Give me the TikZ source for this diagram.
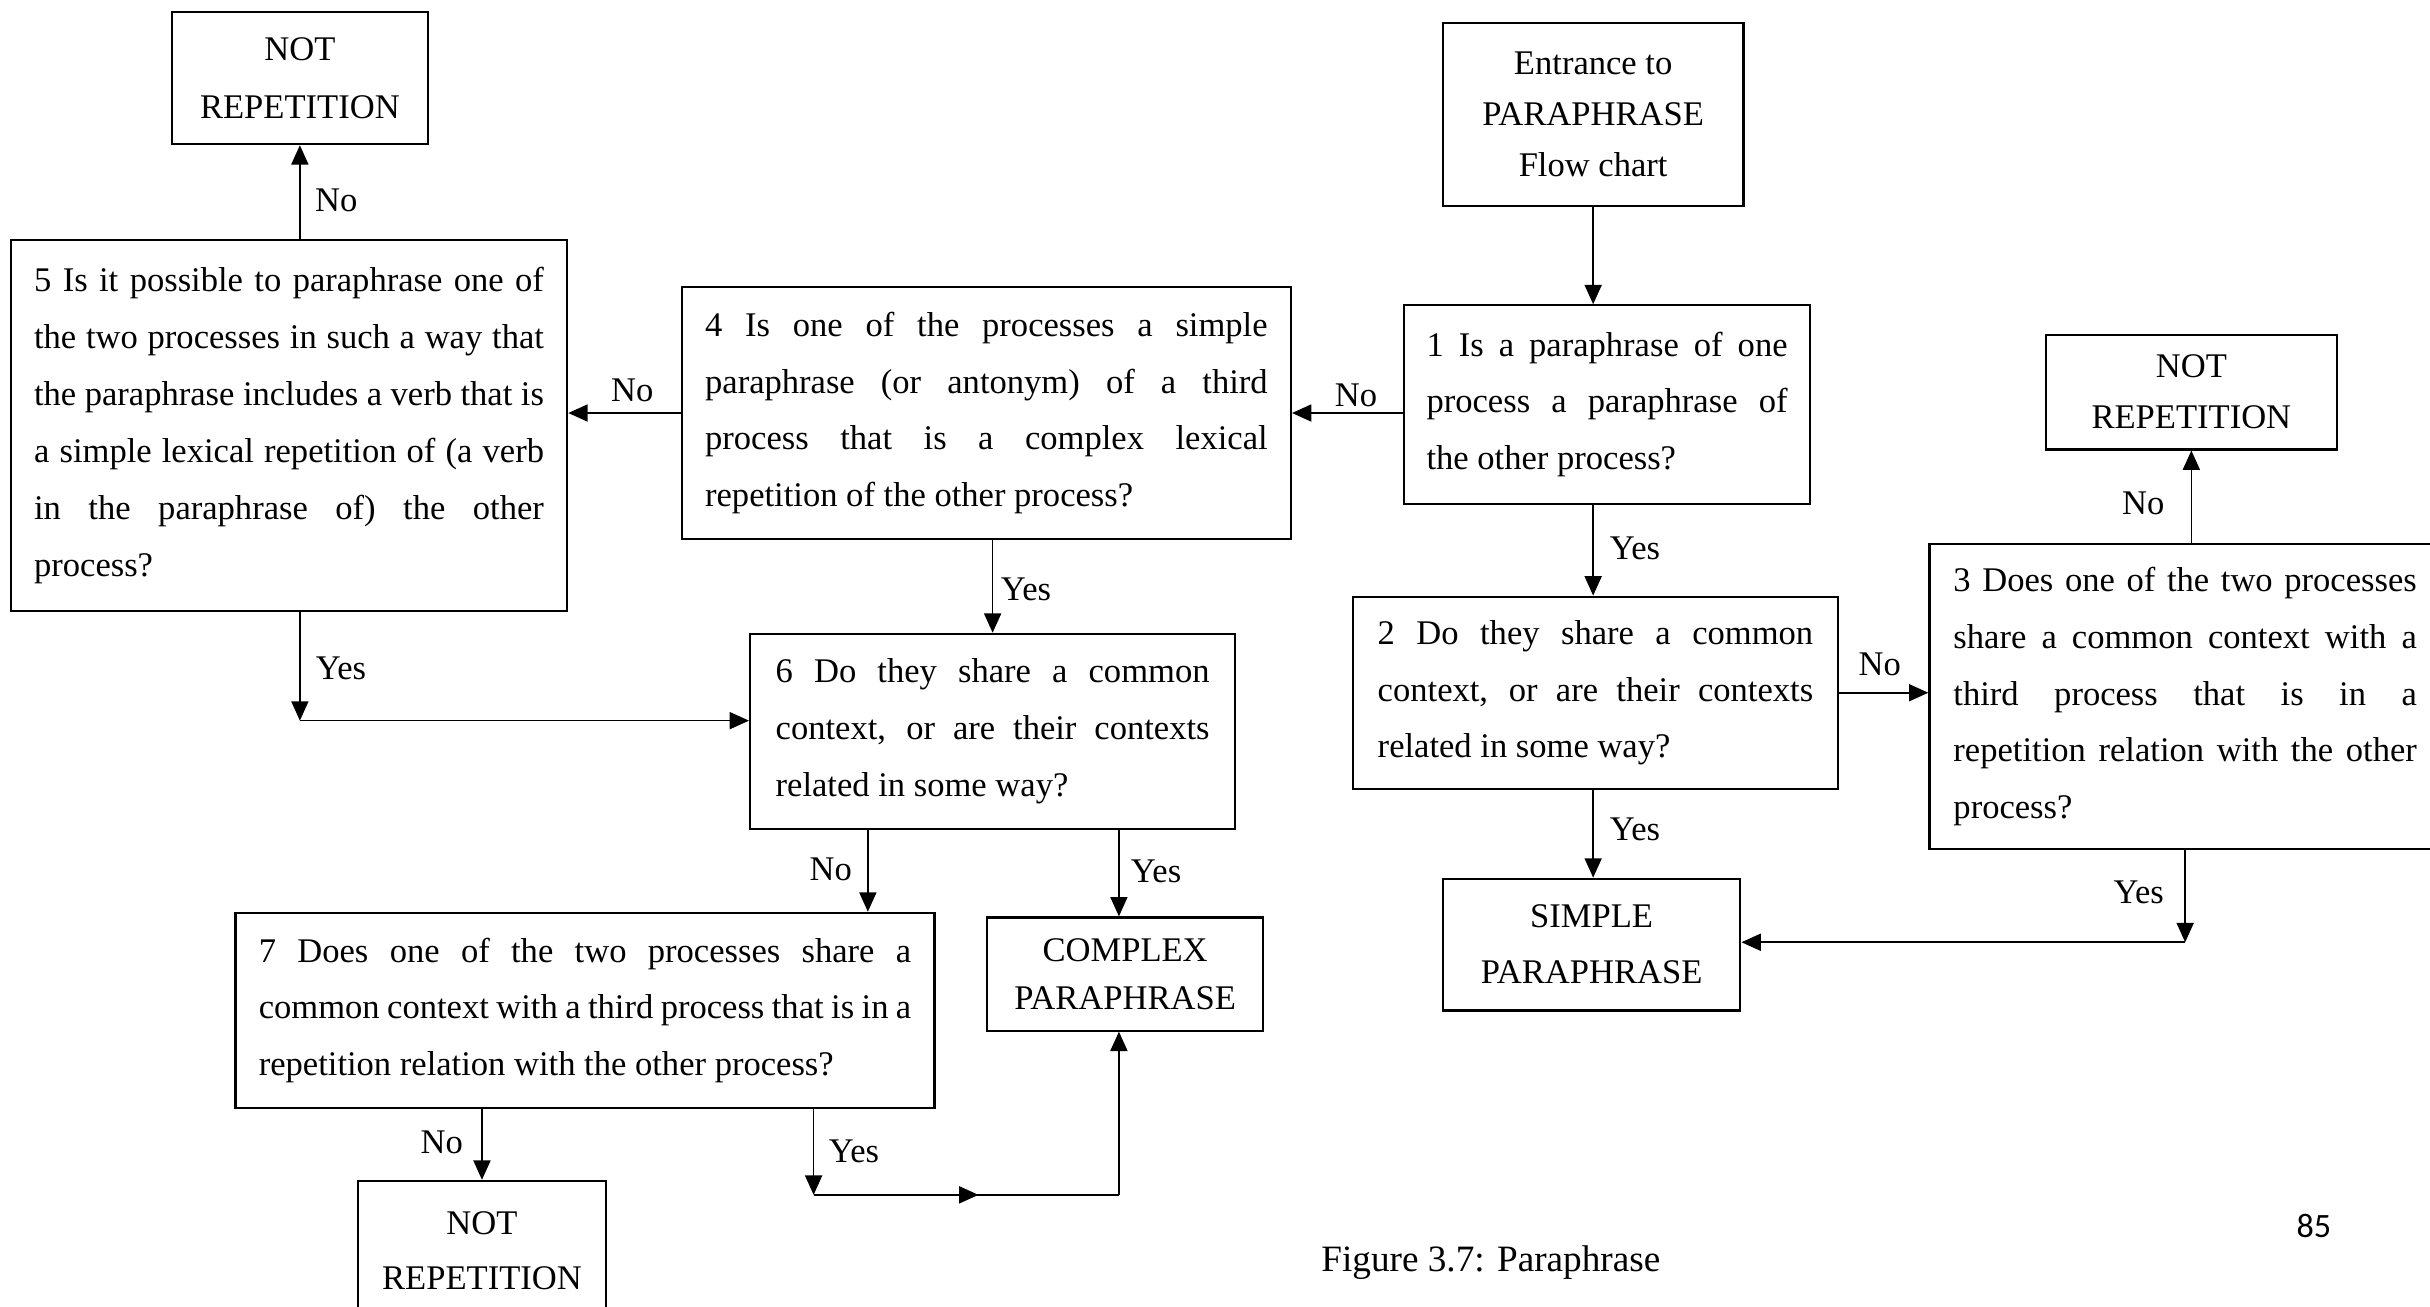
\documentclass[tikz,border=0pt]{standalone}
\usepackage{fontspec}
\setmainfont{Liberation Serif}
\newfontfamily\pagenumfont{Carlito}
\usetikzlibrary{arrows.meta,decorations.markings}
\setlength\parindent{0pt}

% natural interword glue of the font (align=left would fix it)
\newcommand\natsp{\spaceskip=0pt\xspaceskip=0pt\relax}
% one justified line of a question box
\newcommand\fl[1]{\hbox to \hsize{\natsp #1}\par}
\newcommand\qfont{\fontsize{22.3}{36.7}\selectfont}

\begin{document}
\begin{tikzpicture}[x=1pt,y=-1pt,
  qbox/.style={draw, line width=1.4pt, inner ysep=0pt, align=left, font=\qfont},
  tbox/.style={draw, line width=1.4pt, inner sep=0pt, align=center},
  arr/.style={line width=1.1pt, -{Triangle[length=12.5pt,width=11pt]}},
  lbl/.style={inner sep=0pt, font=\qfont}]
\useasboundingbox (0,0) rectangle (1568,843);

% terminal boxes
\node[tbox, minimum width=165pt, minimum height=85pt, font=\fontsize{22.3}{37}\selectfont] (nr1) at (193.5,50.5) {NOT\\REPETITION};
\node[tbox, minimum width=194pt, minimum height=118pt, font=\fontsize{22.3}{33}\selectfont] (entr) at (1028,74) {\natsp Entrance to\\PARAPHRASE\\\natsp Flow chart};
\node[tbox, minimum width=188pt, minimum height=74pt, font=\fontsize{22.3}{33}\selectfont] (nr2) at (1414,253) {NOT\\REPETITION};
\node[tbox, minimum width=192pt, minimum height=85pt, font=\fontsize{22.3}{36}\selectfont] (sp) at (1027,609.5) {SIMPLE\\PARAPHRASE};
\node[tbox, minimum width=178pt, minimum height=73pt, font=\fontsize{22.3}{31}\selectfont] (cp) at (726,628.5) {COMPLEX\\PARAPHRASE};
\node[tbox, minimum width=160pt, minimum height=90pt, font=\fontsize{22.3}{36}\selectfont] (nr3) at (311,807) {NOT\\REPETITION};

% question boxes
\node[qbox, text width=233pt, inner xsep=14.5pt, minimum height=128pt] (q1) at (1037,261)
  {\fl{1 Is a paraphrase of one}\fl{process a paraphrase of}\natsp the other process?};
\node[qbox, text width=281pt, inner xsep=16pt, minimum height=124pt] (q2) at (1029.5,447)
  {\fl{2 Do they share a common}\fl{context, or are their contexts}\natsp related in some way?};
\node[qbox, text width=299pt, inner xsep=15.5pt, minimum height=197pt] (q3) at (1410,449.5)
  {\fl{3 Does one of the two processes}\fl{share a common context with a}\fl{third process that is in a}\fl{repetition relation with the other}process?};
\node[qbox, text width=363pt, inner xsep=15pt, minimum height=163pt] (q4) at (636.5,266.5)
  {\fl{4 Is one of the processes a simple}\fl{paraphrase (or antonym) of a third}\fl{process that is a complex lexical}\natsp repetition of the other process?};
\node[qbox, text width=329pt, inner xsep=15pt, minimum height=239pt] (q5) at (186.5,274.5)
  {\fl{5 Is it possible to paraphrase one of}\fl{the two processes in such a way that}\fl{the paraphrase includes a verb that is}\fl{a simple lexical repetition of (a verb}\fl{in the paraphrase of) the other}process?};
\node[qbox, text width=280pt, inner xsep=16.5pt, minimum height=126pt] (q6) at (640.5,472)
  {\fl{6 Do they share a common}\fl{context, or are their contexts}\natsp related in some way?};
\node[qbox, text width=421pt, inner xsep=15pt, minimum height=126pt] (q7) at (377.5,652)
  {\fl{7 Does one of the two processes share a}\fl{common context with a third process that is in a}\natsp repetition relation with the other process?};

% bend points
\coordinate (c3) at (1410,608);
\coordinate (c5) at (193.5,465);
\coordinate (c6a) at (560,560);
\coordinate (c6b) at (722,560);
\coordinate (c7a) at (525,771);
\coordinate (c7b) at (722,771);

% connectors
\draw[arr] (entr.south) -- (entr.south |- q1.north);
\draw[arr] (q1.west |- q4.west) -- (q4.east);
\draw[arr] (q1.south -| entr.south) -- (q2.north -| entr.south);
\draw[arr] (q2.east) -- (q2.east -| q3.west);
\draw[arr] (q2.south -| entr.south) -- (sp.north -| entr.south);
\draw[arr] (q3.north -| nr2.south) -- (nr2.south);
\draw[arr] (q3.south -| c3) -- (c3);
\draw[arr] (c3) -- (c3 -| sp.east);
\draw[arr] (q4.west) -- (q4.west -| q5.east);
\draw[arr] (q4.south -| q6.north) -- (q6.north);
\draw[arr] (q5.north -| nr1.south) -- (nr1.south);
\draw[arr] (q5.south -| c5) -- (c5);
\draw[arr] (c5) -- (c5 -| q6.west);
\draw[arr] (q6.south -| c6a) -- (q7.north -| c6a);
\draw[arr] (q6.south -| c6b) -- (cp.north -| c6b);
\draw[arr] (q7.south -| nr3.north) -- (nr3.north);
\draw[arr] (q7.south -| c7a) -- (c7a);
\draw[line width=1.1pt, postaction=decorate,
  decoration={markings, mark=at position 0.54 with {\arrow{Triangle[length=12.5pt,width=11pt]}}}]
  (c7a) -- (c7b);
\draw[arr] (c7b) -- (cp.south -| c7b);

% branch labels
\node[lbl] (l5n) at (217,129) {No};
\node[lbl] (l4n) at (408,252) {No};
\node[lbl] (l1n) at (875,255) {No};
\node[lbl] (l1y) at (1055,354) {Yes};
\node[lbl] (l2n) at (1213,429) {No};
\node[lbl] (l3n) at (1383,325) {No};
\node[lbl] (l2y) at (1055,535) {Yes};
\node[lbl] (l3y) at (1380,576) {Yes};
\node[lbl] (l4y) at (662,380) {Yes};
\node[lbl] (l5y) at (220,431) {Yes};
\node[lbl] (l6n) at (536,561) {No};
\node[lbl] (l6y) at (746,562) {Yes};
\node[lbl] (l7n) at (285,737) {No};
\node[lbl] (l7y) at (551,743) {Yes};

% caption and page number
\node[inner sep=0pt, font=\fontsize{24}{28}\selectfont] (cap) at (962,815) {Figure 3.7: Paraphrase};
\node[inner sep=0pt, font=\pagenumfont\fontsize{22}{26}\selectfont] (pg) at (1493,791) {85};
\end{tikzpicture}
\end{document}
